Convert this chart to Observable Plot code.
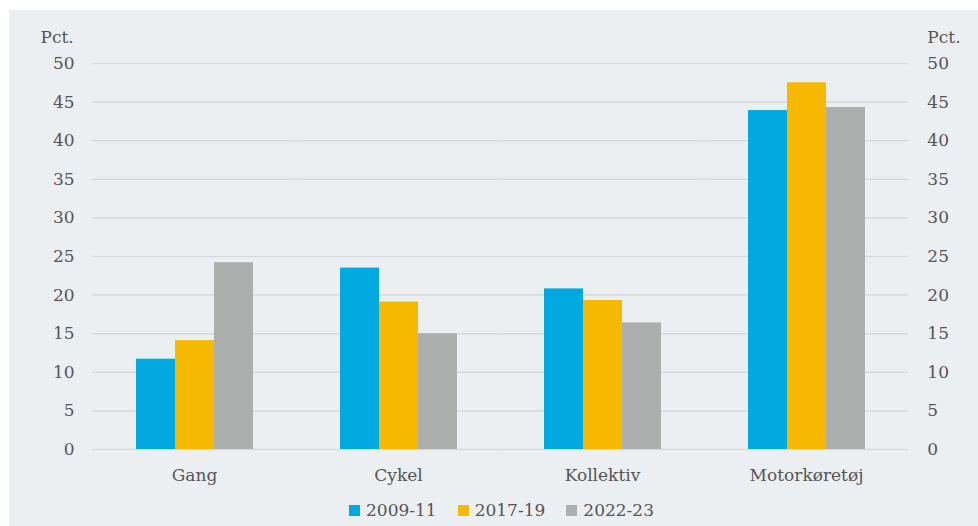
<!DOCTYPE html>
<html>
<head>
<meta charset="utf-8">
<script src="https://cdn.jsdelivr.net/npm/d3@7"></script>
<script src="https://cdn.jsdelivr.net/npm/@observablehq/plot@0.6"></script>
<style>
  html, body { margin: 0; padding: 0; background: #ffffff; }
  #panel { position: absolute; left: 9px; top: 10px; width: 969px; height: 516px; background: #ECEFF2; overflow: hidden; }
  #legend { display: flex; justify-content: center; align-items: center; gap: 21px; padding-top: 11px; padding-left: 16px;
            font-family: "DejaVu Serif", serif; font-size: 17px; color: #555555; }
  #legend .item { display: flex; align-items: center; gap: 6px; }
  #legend .sw { width: 11px; height: 11px; display: inline-block; }
</style>
</head>
<body>
<div id="panel"><div id="chart"></div><div id="legend"></div></div>
<script>
const categories = ["Gang", "Cykel", "Kollektiv", "Motorkøretøj"];
const periods = ["2009-11", "2017-19", "2022-23"];
const v2009 = [11.7, 23.5, 20.8, 43.9];
const v2017 = [14.1, 19.1, 19.3, 47.5];
const v2022 = [24.2, 15.0, 16.4, 44.3];
const colors = ["#00A9E0", "#F7B900", "#ADAFAE"];
const yTicks = [0, 5, 10, 15, 20, 25, 30, 35, 40, 45, 50];
const yLabel = "Pct.";

const series = [v2009, v2017, v2022];
const data = [];
categories.forEach((c, i) => periods.forEach((p, j) => data.push({category: c, period: p, value: series[j][i]})));

const W = 969, ML = 83, MR = 70;
const padIn = 0.42, padOut = 0.21;
const step = (W - ML - MR) / (categories.length - padIn + 2 * padOut);
const gap = padOut * step; // outer padding == half of inner gap

const textColor = "#555555";
const chart = Plot.plot({
  width: W,
  height: 479,
  marginTop: 53,
  marginBottom: 40,
  marginLeft: ML,
  marginRight: MR,
  style: {background: "transparent", fontFamily: "DejaVu Serif, serif", fontSize: "17px", color: textColor, overflow: "visible"},
  fx: {domain: categories, paddingInner: padIn, paddingOuter: padOut, label: null},
  x: {domain: periods, padding: 0, axis: null},
  y: {domain: [0, 50], ticks: yTicks, label: null},
  color: {domain: periods, range: colors},
  marks: [
    Plot.gridY(yTicks, {stroke: "#D6D9DD", strokeOpacity: 1, strokeWidth: 1.5, insetLeft: -gap, insetRight: -gap}),
    Plot.barY(data, {fx: "category", x: "period", y: "value", fill: "period", inset: 0}),
    Plot.axisY(yTicks, {anchor: "left", tickSize: 0, tickPadding: 18 + gap, label: null, fill: textColor}),
    Plot.axisY(yTicks, {anchor: "right", tickSize: 0, tickPadding: 19 + gap, label: null, fill: textColor}),
    Plot.axisFx({anchor: "bottom", tickSize: 0, tickPadding: 19, label: null, fill: textColor}),
    Plot.text([yLabel], {facet: "super", frameAnchor: "top-left", dx: -19 - gap, dy: -33, textAnchor: "end", fill: textColor}),
    Plot.text([yLabel], {facet: "super", frameAnchor: "top-right", dx: 19 + gap, dy: -33, textAnchor: "start", fill: textColor})
  ]
});
document.getElementById("chart").appendChild(chart);

const legend = document.getElementById("legend");
periods.forEach((p, i) => {
  const item = document.createElement("div");
  item.className = "item";
  const sw = document.createElement("span");
  sw.className = "sw";
  sw.style.background = colors[i];
  const t = document.createElement("span");
  t.textContent = p;
  item.appendChild(sw);
  item.appendChild(t);
  legend.appendChild(item);
});
</script>
</body>
</html>
